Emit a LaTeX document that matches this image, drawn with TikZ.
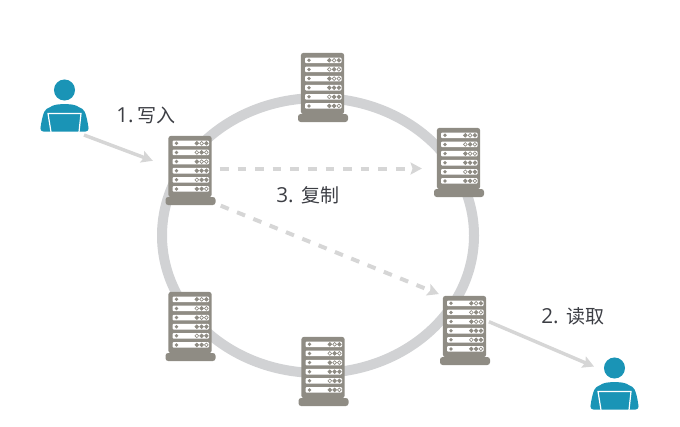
\documentclass[tikz,border=0pt]{standalone}
\usepackage{fontspec}
\setmainfont{Open Sans}
\newfontfamily\cjkfont{Noto Sans CJK SC}
\usepackage{xcolor}
\definecolor{userteal}{RGB}{26,148,182}
\definecolor{servergray}{RGB}{143,140,132}
\definecolor{ringgray}{RGB}{209,210,212}
\definecolor{arrowgray}{RGB}{214,214,214}
\definecolor{labeldark}{RGB}{60,62,68}
\usetikzlibrary{calc,positioning,arrows.meta}

\begin{document}
\begin{tikzpicture}[
    x=0.75pt, y=-0.75pt,
    arrow/.style={-{Stealth[length=8.5pt,width=9pt,inset=1.5pt]}, line width=2.6pt, draw=arrowgray},
    copyarrow/.style={arrow, line width=3pt, dash pattern=on 6.5pt off 6.7pt},
    steplabel/.style={text=labeldark, font=\fontsize{15.5}{17}\selectfont, inner sep=0pt},
    ring/.style={draw=ringgray, line width=7.5pt},
    slotdot/.style={circle, inner sep=0pt, minimum size=2.8pt, draw=servergray, line width=0.5pt},
    server/.pic={
        \node (-body) [rectangle, rounded corners=2pt, fill=servergray, minimum width=32.5pt, minimum height=46pt, inner sep=0pt] at (0,30.5) {};
        \node (-base) [rectangle, rounded corners=2pt, fill=servergray, minimum width=37.5pt, minimum height=6pt, inner sep=0pt] at (0.5,65) {};
        \foreach \row/\dotA/\dotB/\dotC in {7.3/servergray/white/servergray, 16.4/white/servergray/white, 25.6/servergray/white/white, 34.7/servergray/servergray/servergray, 43.8/white/servergray/servergray, 52.9/servergray/servergray/white} {
            \fill[white, rounded corners=0.8pt] (-17.5,\row-2.8) rectangle (19,\row+2.8);
            \fill[servergray] (-13.5,\row) circle (1.4pt);
            \node[slotdot, fill=\dotA] at (6.8,\row) {};
            \node[slotdot, fill=\dotB] at (11.6,\row) {};
            \node[slotdot, fill=\dotC] at (16.4,\row) {};
        }
    },
    user/.pic={
        \node (-box) [rectangle, minimum width=36pt, minimum height=39pt, inner sep=0pt] at (0,26.5) {};
        \fill[userteal] (0,10.5) circle (7.9pt);
        \fill[userteal, rounded corners=2.5pt] (-24.5,52) .. controls (-23,41) and (-21,31) .. (-15,28) .. controls (-8,24) and (8,24) .. (15,28) .. controls (21,31) and (23,41) .. (24.5,52) -- cycle;
        \draw[white, line width=0.9pt] (-13.5,52.5) -- (-16.5,34) -- (16.5,34) -- (14.5,52.5);
    },
]
\useasboundingbox (0,0) rectangle (680,426);

% Ring
\node (ringcenter) [inner sep=0pt] at (318,235.5) {};
\draw[ring] (ringcenter) ellipse [x radius=117pt, y radius=103.1pt];

% Servers
\pic (srvA) at (190,136) {server};
\pic (srvB) at (322.5,53) {server};
\pic (srvC) at (458.5,128) {server};
\pic (srvD) at (464.5,296) {server};
\pic (srvE) at (323,337) {server};
\pic (srvF) at (190,292) {server};

% Users
\pic (userW) at (64.5,79.5) {user};
\pic (userR) at (614.5,357.5) {user};
\coordinate (writestart) at (84,135);
\coordinate (readend) at (594,366.5);

% Arrows
\draw[arrow, shorten >=12.2pt] (writestart) -- (srvA-body.west);
\draw[arrow, shorten <=2pt] (srvD-body.15) -- (readend);
\draw[copyarrow, shorten <=6pt, shorten >=11pt] (srvA-body.east |- 0,168.5) -- (srvC-body.west |- 0,168.5);
\draw[copyarrow, shorten <=4pt, shorten >=3pt] (srvA-base.-6) -- (srvD-body.north west);

% Labels
\node (write) [steplabel, anchor=west] at (116,115) {1.\hspace{3.2pt}{\cjkfont\fontsize{14.25}{16}\selectfont 写入}};
\node (read) [steplabel, anchor=west] at (541,316) {2.\hspace{6pt}{\cjkfont\fontsize{14.25}{16}\selectfont 读取}};
\node (copy) [steplabel, anchor=west] at (276,195) {3.\hspace{6pt}{\cjkfont\fontsize{14.25}{16}\selectfont 复制}};

\end{tikzpicture}
\end{document}
